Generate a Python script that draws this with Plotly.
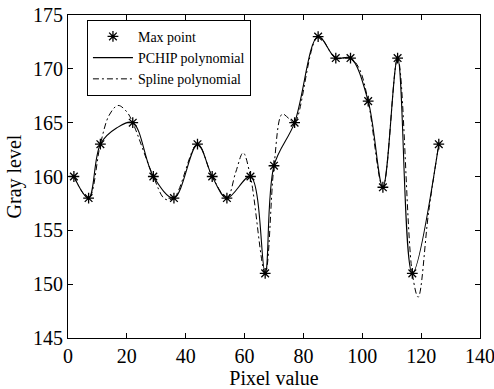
import plotly.graph_objects as go

# Max points (pixel value, gray level)
max_x = [2, 7, 11, 22, 29, 36, 44, 49, 54, 62, 67, 70, 77, 85, 91, 96, 102, 107, 112, 117, 126]
max_y = [160, 158, 163, 165, 160, 158, 163, 160, 158, 160, 151, 161, 165, 173, 171, 171, 167, 159, 171, 151, 163]

# PCHIP curve
pchip_x = [2, 7, 11, 16.5, 22, 29, 36, 44, 49, 54, 62, 67, 70, 77, 85, 91, 96, 102, 107, 112, 117, 126]
pchip_y = [160, 158, 163, 164.5, 165, 160, 158, 163, 160, 158, 160, 151, 161, 165, 173, 171, 171, 167, 159, 171, 151, 163]

# Spline curve
spline_x = [2, 7, 11, 14, 17, 20, 22, 29, 33, 36, 44, 49, 54, 57, 59.5, 62, 67, 70, 72.8, 75, 77,
            85, 91, 96, 99, 102, 107, 112, 117, 119, 122.5, 126]
spline_y = [160, 158, 163, 165.7, 166.6, 166.0, 165, 160, 157.9, 158, 163, 160, 158, 160.4, 162.2, 160, 151, 161, 165.8, 165.4, 165,
            173, 171, 171, 170.0, 167, 159, 171, 151, 148.8, 156.6, 163]

x_ticks = [0, 20, 40, 60, 80, 100, 120, 140]
y_ticks = [145, 150, 155, 160, 165, 170, 175]

FONT = "Liberation Serif, Times New Roman, serif"

fig = go.Figure()
fig.add_trace(go.Scatter(
    x=pchip_x, y=pchip_y, mode="lines", name="PCHIP polynomial",
    line=dict(color="black", width=1.1, shape="spline", smoothing=1.0),
    legendrank=2,
))
fig.add_trace(go.Scatter(
    x=spline_x, y=spline_y, mode="lines", name="Spline polynomial",
    line=dict(color="black", width=1.0, dash="6px,3px,2px,3px", shape="spline", smoothing=1.0),
    legendrank=3,
))
fig.add_trace(go.Scatter(
    x=max_x, y=max_y, mode="markers", name="Max point",
    marker=dict(symbol="asterisk-open", size=9, color="black", line=dict(color="black", width=1.3)),
    legendrank=1,
))

axis_common = dict(
    showline=True, linecolor="black", linewidth=1, mirror="ticks",
    ticks="inside", ticklen=5, tickcolor="black", tickwidth=1,
    showgrid=False, zeroline=False, ticklabeloverflow="allow", automargin=False,
    tickfont=dict(family=FONT, size=20, color="black"),
)

fig.update_layout(
    width=494, height=389,
    margin=dict(l=68, r=14, t=15, b=51),
    paper_bgcolor="white", plot_bgcolor="white",
    font=dict(family=FONT, color="black"),
    xaxis=dict(range=[0, 140], tickvals=x_ticks,
               title=dict(text="Pixel value", font=dict(family=FONT, size=20, color="black"), standoff=5),
               **axis_common),
    yaxis=dict(range=[145, 175], tickvals=y_ticks,
               title=dict(text="Gray level", font=dict(family=FONT, size=20, color="black"), standoff=6),
               **axis_common),
    legend=dict(x=0.046, y=0.985, xanchor="left", yanchor="top",
                bgcolor="white", bordercolor="black", borderwidth=1,
                font=dict(family=FONT, size=14, color="black"),
                tracegroupgap=0, itemwidth=40),
    showlegend=True,
)

fig.write_html("out.html")
